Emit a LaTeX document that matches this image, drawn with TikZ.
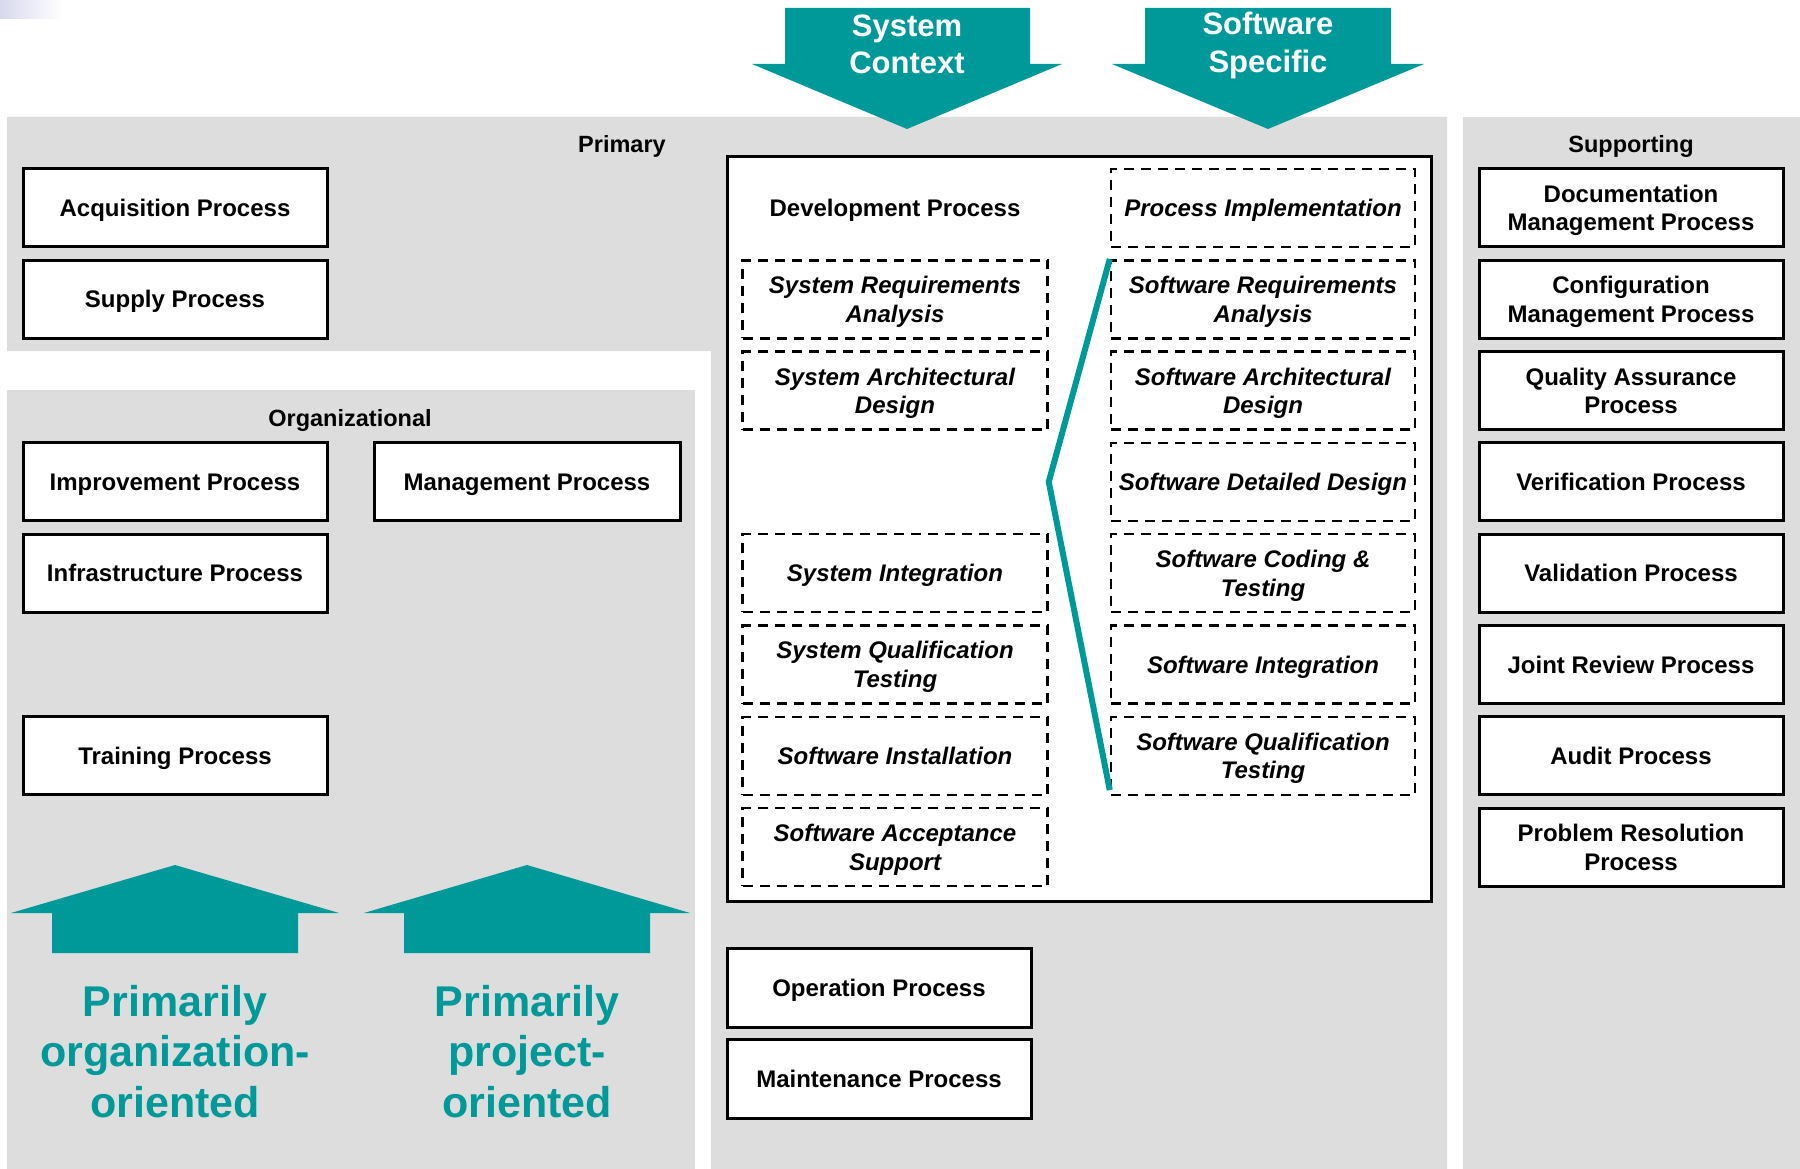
\documentclass[tikz,border=0pt]{standalone}
\usepackage{fontspec}
\setmainfont{Liberation Sans}
\usetikzlibrary{calc}
\definecolor{tealc}{RGB}{0,153,153}
\definecolor{bggray}{RGB}{221,221,221}
\definecolor{lav}{RGB}{216,216,238}
\begin{document}
\begin{tikzpicture}[x=1pt,y=-1pt,
  boxtext/.style={font=\fontsize{24}{28.5}\selectfont\bfseries, align=center, text depth=0pt},
  pbox/.style={boxtext, draw=black, line width=3pt, fill=white, minimum width=304pt, minimum height=78pt, inner sep=0pt},
  dbox/.style={font=\fontsize{24}{28.5}\selectfont\bfseries\itshape, align=center, text depth=0pt, draw=black, line width=2.5pt, dash pattern=on 10pt off 7pt, fill=white, minimum width=305pt, minimum height=78pt, inner sep=0pt},
  arrowtext/.style={font=\fontsize{31}{37.5}\selectfont\bfseries, text=white, align=center, inner sep=0pt},
  bigtext/.style={font=\fontsize{43}{50.5}\selectfont\bfseries, text=tealc, align=center, inner sep=0pt},
  grouplabel/.style={font=\fontsize{23.5}{28}\selectfont\bfseries, inner sep=0pt}
]
\useasboundingbox (0,0) rectangle (1800,1169);
\fill[white] (0,0) rectangle (1800,1169);
\shade[left color=lav, right color=white] (0,0) rectangle (62,19);

% grey regions
\fill[bggray] (7,117) -- (1447,117) -- (1447,1169) -- (711,1169) -- (711,351) -- (7,351) -- cycle;
\fill[bggray] (7,390) rectangle (695,1169);
\fill[bggray] (1463,117) rectangle (1800,1169);

% down arrows
\fill[tealc] (785,8) -- (1030,8) -- (1030,64) -- (1062,64) -- (907,129) -- (752,64) -- (785,64) -- cycle;
\fill[tealc] (1145,8) -- (1391,8) -- (1391,64) -- (1424,64) -- (1268,129) -- (1112,64) -- (1145,64) -- cycle;
\node[arrowtext, anchor=base] (sysctx) at (907,74) {System\\Context};
\node[arrowtext, anchor=base] (swspec) at (1268,72.5) {Software\\Specific};

% up arrows
\fill[tealc] (52,953) -- (52,913) -- (11,913) -- (175,865) -- (339,913) -- (298,913) -- (298,953) -- cycle;
\fill[tealc] (404,953) -- (404,913) -- (364,913) -- (527,865) -- (690,913) -- (650,913) -- (650,953) -- cycle;
\node[bigtext, anchor=base] (orgtxt) at (175,1117) {Primarily\\organization-\\oriented};
\node[bigtext, anchor=base] (prjtxt) at (527,1117) {Primarily\\project-\\oriented};

% group labels
\node[grouplabel, anchor=base] (lprim) at (622,153) {Primary};
\node[grouplabel, anchor=base] (lorg) at (350,426) {Organizational};
\node[grouplabel, anchor=base] (lsup) at (1631,153) {Supporting};

% primary left boxes
\node[pbox] (acq) at (175,208) {Acquisition Process};
\node[pbox] (sup) at (175,299.3) {Supply Process};

% organizational
\node[pbox] (imp) at (175,481.9) {Improvement Process};
\node[pbox, minimum width=306pt] (mgmt) at (527,481.9) {Management Process};
\node[pbox] (infra) at (175,573.2) {Infrastructure Process};
\node[pbox] (train) at (175,755.8) {Training Process};

% development process
\node[draw=black, line width=3pt, fill=white, minimum width=704pt, minimum height=744pt, inner sep=0pt] (dev) at (1079,529) {};
\node[boxtext] (devlbl) at (895,208) {Development Process};

\node[dbox] (sra) at (895,299.3) {System Requirements\\Analysis};
\node[dbox] (sad) at (895,390.6) {System Architectural\\Design};
\node[dbox] (sint) at (895,573.2) {System Integration};
\node[dbox] (sqt) at (895,664.5) {System Qualification\\Testing};
\node[dbox] (swinst) at (895,755.8) {Software Installation};
\node[dbox] (swacc) at (895,847.1) {Software Acceptance\\Support};

\node[dbox, minimum width=304pt] (pimpl) at (1263,208) {Process Implementation};
\node[dbox, minimum width=304pt] (swra) at (1263,299.3) {Software Requirements\\Analysis};
\node[dbox, minimum width=304pt] (swad) at (1263,390.6) {Software Architectural\\Design};
\node[dbox, minimum width=304pt] (sdd) at (1263,481.9) {Software Detailed Design};
\node[dbox, minimum width=304pt] (scode) at (1263,573.2) {Software Coding \&\\Testing};
\node[dbox, minimum width=304pt] (swint) at (1263,664.5) {Software Integration};
\node[dbox, minimum width=304pt] (swqt) at (1263,755.8) {Software Qualification\\Testing};

\draw[tealc, line width=6pt, line join=miter] (swra.north west) -- (sad.east |- sdd.west) -- ($(swqt.south west)+(0,-6)$);

% operation / maintenance
\node[pbox, minimum height=79pt] (oper) at (879,987.5) {Operation Process};
\node[pbox, minimum height=79pt] (maint) at (879,1079) {Maintenance Process};

% supporting
\node[pbox] (doc) at (1631,208) {Documentation\\Management Process};
\node[pbox] (conf) at (1631,299.3) {Configuration\\Management Process};
\node[pbox] (qa) at (1631,390.6) {Quality Assurance\\Process};
\node[pbox] (ver) at (1631,481.9) {Verification Process};
\node[pbox] (val) at (1631,573.2) {Validation Process};
\node[pbox] (jr) at (1631,664.5) {Joint Review Process};
\node[pbox] (aud) at (1631,755.8) {Audit Process};
\node[pbox] (pr) at (1631,847.1) {Problem Resolution\\Process};
\end{tikzpicture}
\end{document}
